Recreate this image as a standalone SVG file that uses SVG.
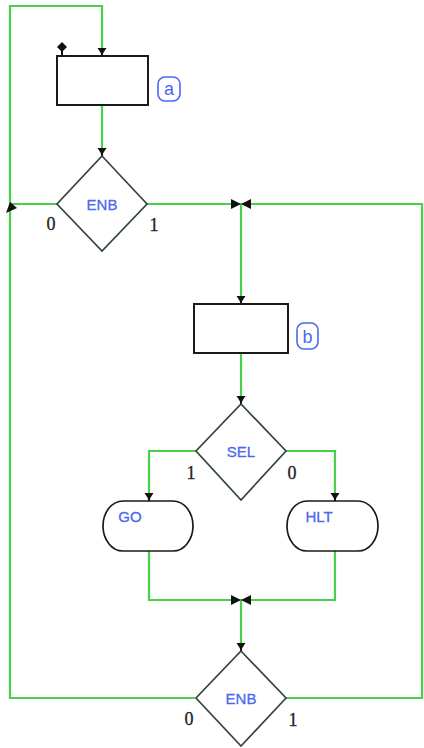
<svg xmlns="http://www.w3.org/2000/svg" xmlns:xlink="http://www.w3.org/1999/xlink" width="424" height="748" viewBox="0 0 424 748">
<style>
.wire{fill:none;stroke:#48d048;stroke-width:2.2;stroke-linejoin:miter}
.box{fill:#fff;stroke:#1a1a1a;stroke-width:2}
.dia{fill:#fff;stroke:#34443e;stroke-width:1.7}
.term{fill:#fff;stroke:#1a1a1a;stroke-width:1.7}
.nt{font-family:"Liberation Sans",Arial,sans-serif;font-size:15px;fill:#4a68f0;text-anchor:middle;stroke:#4a68f0;stroke-width:0.3}
.dg{font-family:"Liberation Serif","Times New Roman",serif;font-size:18px;fill:#222;text-anchor:middle;stroke:#222;stroke-width:0.3}
.tag{fill:#fff;stroke:#4a68f0;stroke-width:1.6}
.tagt{font-family:"Liberation Sans",Arial,sans-serif;font-size:18px;fill:#4a68f0;text-anchor:middle}
.mk{fill:#111}
</style>
<defs>
<g id="arr"><path class="mk" d="M-4.5,-8 L4.5,-8 L0,-1 Z"/><rect class="mk" x="-1" y="-3" width="2" height="3"/></g>
<g id="bow"><path class="mk" d="M-10,-5 L0,0 L-10,5 Z M10,-5 L0,0 L10,5 Z"/></g>
</defs>
<g id="connectors">
<polyline class="wire" points="102,55 102,6 10,6 10,698 195,698"/>
<line class="wire" x1="102" y1="106" x2="102" y2="156"/>
<line class="wire" x1="57" y1="204" x2="10" y2="204"/>
<polyline class="wire" points="147,204 422,204 422,698 286,698"/>
<line class="wire" x1="241" y1="204" x2="241" y2="303"/>
<line class="wire" x1="241" y1="353" x2="241" y2="403"/>
<polyline class="wire" points="196,451 149,451 149,500"/>
<polyline class="wire" points="286,451 335,451 335,500"/>
<polyline class="wire" points="149,551 149,600 335,600 335,551"/>
<line class="wire" x1="241" y1="600" x2="241" y2="650"/>
<use xlink:href="#arr" x="102" y="56"/>
<use xlink:href="#arr" x="102" y="156"/>
<use xlink:href="#arr" x="241" y="304"/>
<use xlink:href="#arr" x="241" y="404"/>
<use xlink:href="#arr" x="149" y="501"/>
<use xlink:href="#arr" x="335" y="501"/>
<use xlink:href="#arr" x="241" y="651"/>
<use xlink:href="#bow" x="241" y="204"/>
<use xlink:href="#bow" x="241" y="600"/>
<path class="mk" d="M6,213 L10,202 L17,208 Z"/>
<path class="mk" d="M57,47 L62,42 L67,47 L62,52 Z"/>
<rect class="mk" x="61" y="50" width="2" height="6"/>
</g>
<g id="box-a">
<rect class="box" x="57" y="56" width="91" height="49"/>
<rect class="tag" x="158" y="77" width="22" height="24" rx="7"/>
<text class="tagt" x="169" y="95">a</text>
</g>
<g id="enb-1">
<polygon class="dia" points="102,156 147,204 102,251 57,204"/>
<text class="nt" x="102" y="210">ENB</text>
<text class="dg" x="51" y="230">0</text>
<text class="dg" x="154" y="231">1</text>
</g>
<g id="box-b">
<rect class="box" x="194" y="304" width="94" height="49"/>
<rect class="tag" x="297" y="323" width="21" height="26" rx="7"/>
<text class="tagt" x="307.5" y="343">b</text>
</g>
<g id="sel">
<polygon class="dia" points="241,404 286,451 241,500 196,451"/>
<text class="nt" x="241" y="457">SEL</text>
<text class="dg" x="191" y="479">1</text>
<text class="dg" x="292" y="479">0</text>
</g>
<g id="go">
<rect class="term" x="103" y="501" width="90" height="50" rx="20" ry="25"/>
<text class="nt" x="130" y="522">GO</text>
</g>
<g id="hlt">
<rect class="term" x="287" y="501" width="91" height="50" rx="20" ry="25"/>
<text class="nt" x="319" y="522">HLT</text>
</g>
<g id="enb-2">
<polygon class="dia" points="241,651 286,698 241,746 196,698"/>
<text class="nt" x="241" y="704">ENB</text>
<text class="dg" x="189" y="725">0</text>
<text class="dg" x="293" y="726">1</text>
</g>
</svg>
